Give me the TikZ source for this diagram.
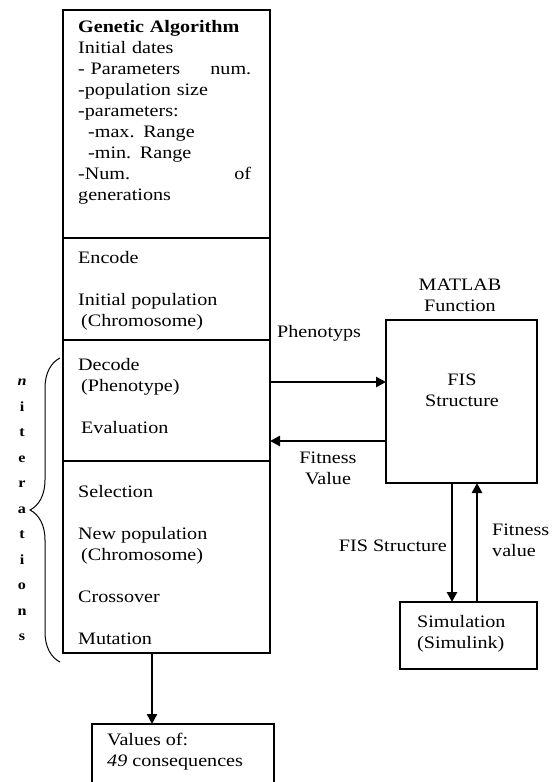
\documentclass[tikz,border=0pt]{standalone}
\usepackage{fontspec}
\setmainfont{Liberation Serif}[FakeStretch=1.15]
\usetikzlibrary{arrows.meta, decorations.pathreplacing}

\begin{document}
\begin{tikzpicture}[x=1pt, y=-1pt,
        blk/.style={draw, line width=1.6pt, inner sep=0pt, outer sep=0pt},
        txt/.style={inner sep=0pt, anchor=north west, align=left,
                    font=\fontsize{17.5}{21}\selectfont},
        arr/.style={-{Triangle[length=10pt, width=10pt]}, line width=2.8pt}
      ]
        \useasboundingbox (0,0) rectangle (557,782);

        % genetic algorithm column
        \node[blk, minimum width=207pt, minimum height=228pt] (ga) at (166.5,124) {};
        \node[blk, minimum width=207pt, minimum height=102pt] (enc) at (166.5,289) {};
        \node[blk, minimum width=207pt, minimum height=121pt] (dec) at (166.5,400.5) {};
        \node[blk, minimum width=207pt, minimum height=192pt] (sel) at (166.5,557) {};

        \node[txt, text width=173pt] (gatxt) at (78,17.3)
          {\strut\textbf{Genetic Algorithm}\\
           Initial dates\\
           - Parameters\hfill num.\\
           -population size\\
           -parameters:\\
           \hspace*{10pt}-max. Range\\
           \hspace*{10pt}-min. Range\\
           -Num.\hfill of\\
           generations};
        \node[txt] (enctxt) at (78,248.3)
          {\strut Encode\\[21pt]
           Initial population\\
           \hspace*{3pt}(Chromosome)};
        \node[txt] (dectxt) at (78,355.3)
          {\strut Decode\\
           \hspace*{3pt}(Phenotype)\\[21pt]
           \hspace*{3pt}Evaluation};
        \node[txt] (seltxt) at (78,482.3)
          {\strut Selection\\[21pt]
           New population\\
           \hspace*{3pt}(Chromosome)\\[21pt]
           Crossover\\[21pt]
           Mutation};

        % loop brace
        \draw[decorate, decoration={brace, amplitude=30pt}, line width=1pt]
          (60,662) -- (60,358);
        \node[inner sep=0pt, align=center, font=\fontsize{14}{25.5}\selectfont\bfseries]
          (iter) at (22,510) {\textit{n}\\i\\t\\e\\r\\a\\t\\i\\o\\n\\s};

        % matlab side
        \node[blk, minimum width=151pt, minimum height=163pt] (fis) at (461.5,401.5) {};
        \node[txt, anchor=north, align=center] (fistxt) at (462,370.3) {\strut FIS\\Structure};
        \node[txt, anchor=north, align=center] (mlab) at (460,275.3) {\strut MATLAB\\Function};
        \node[blk, minimum width=137pt, minimum height=67pt] (sim) at (468.5,635.5) {};
        \node[txt] (simtxt) at (417,612.3) {\strut Simulation\\(Simulink)};

        % result
        \node[blk, minimum width=182pt, minimum height=76pt] (val) at (183,762) {};
        \node[txt] (valtxt) at (107,730.3) {\strut Values of:\\\textit{49} consequences};

        % connectors
        \draw[arr] ([yshift=18.5pt]dec.east) -- ([yshift=18.5pt]dec.east -| fis.west);
        \draw[arr] ([yshift=-39.5pt]fis.west) -- ([yshift=-39.5pt]fis.west -| dec.east);
        \draw[arr] ([xshift=-9.5pt]fis.south) -- ([xshift=-9.5pt]fis.south |- sim.north);
        \draw[arr] ([xshift=15.5pt]fis.south |- sim.north) -- ([xshift=15.5pt]fis.south);
        \draw[arr] ([xshift=-14.5pt]sel.south) -- ([xshift=-14.5pt]sel.south |- val.north);

        \node[txt] (phen) at (277,322.3) {\strut Phenotyps};
        \node[txt, anchor=north, align=center] (fitl) at (328,448.3) {\strut Fitness\\Value};
        \node[txt, anchor=north east] (fisl) at (447,536.3) {\strut FIS Structure};
        \node[txt] (fitr) at (492,520.3) {\strut Fitness\\value};
      \end{tikzpicture}
\end{document}
